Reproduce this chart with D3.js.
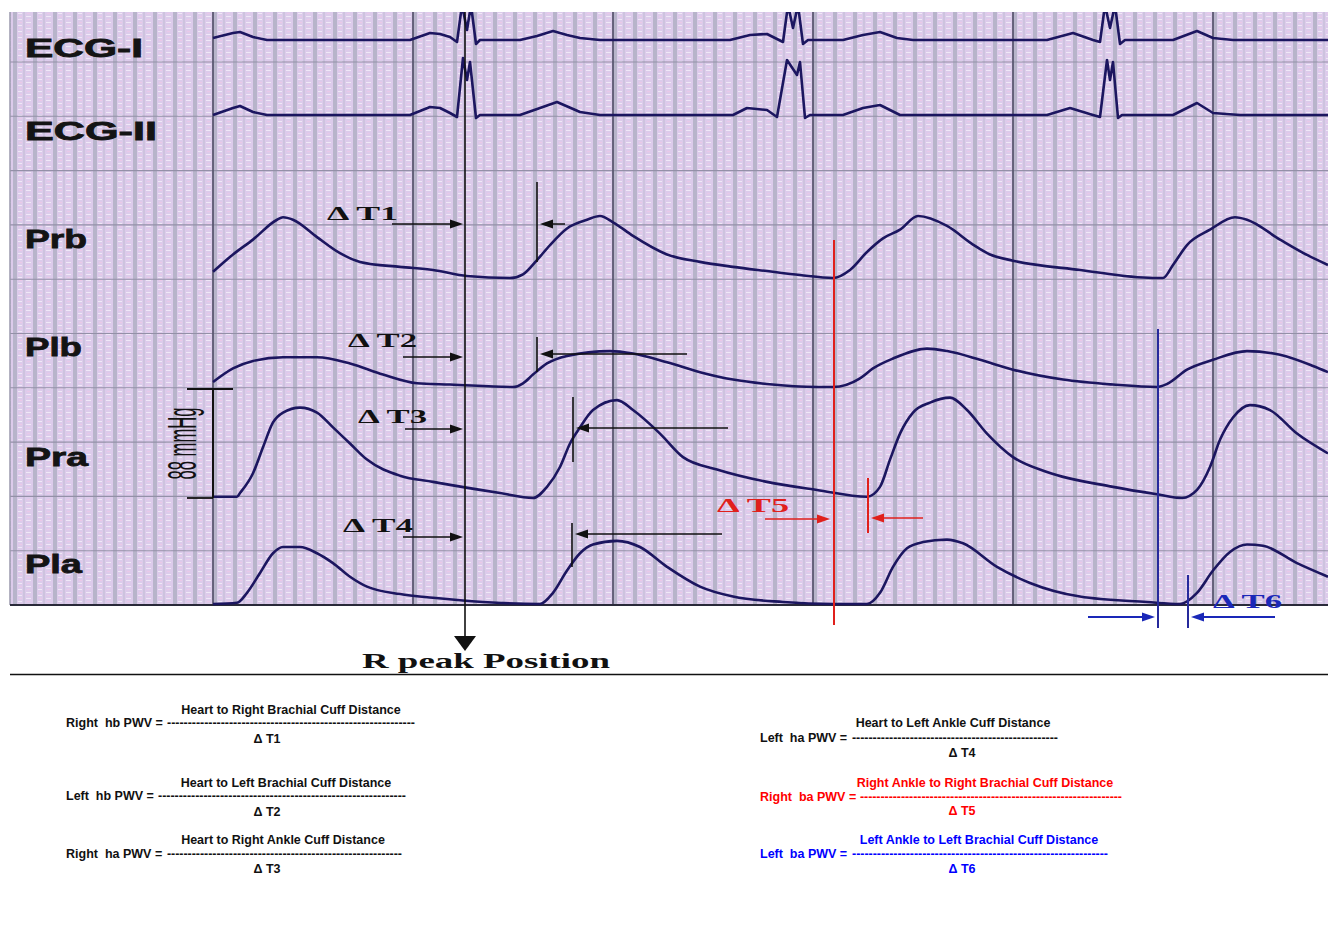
<!DOCTYPE html>
<html>
<head>
<meta charset="UTF-8">
<title>Pulse wave velocity - cuff pressure recording</title>
<script src="https://cdn.jsdelivr.net/npm/d3@7"></script>
<style>
  body { margin: 0; background: #ffffff; }
</style>
</head>
<body>
<svg id="chart" width="1328" height="947"></svg>
<script>
// time in ms from the start of the strip; ECG in mV, cuff pressures in mmHg above the foot
var ecg1 = [[0,0.04],[20,0.14],[27,0.16],[40,0.06],[54,0],[197,0],[217,0.14],[227,0.12],[237,0.06],[244,-0.04],
  [249,0.7],[254,0.2],[258,0.7],[263,-0.08],[267,0],[307,0],[324,0.08],[340,0.18],[354,0.1],[367,0.04],[387,0],
  [517,0],[537,0.1],[554,0.12],[570,-0.04],[575,0.7],[580,0.24],[585,0.7],[590,-0.08],[595,0],[630,0],[650,0.1],
  [667,0.16],[684,0.04],[700,0],[834,0],[860,0.14],[880,0],[887,-0.04],[892,0.7],[897,0.24],[902,0.7],[907,-0.08],
  [912,0],[960,0],[984,0.18],[1000,0.04],[1020,0],[1115,0]];

var ecg2 = [[0,0],[20,0.14],[27,0.18],[40,0.06],[54,0],[197,0],[217,0.16],[227,0.14],[237,0.04],[244,-0.04],
  [250,1.14],[254,0.7],[257,1.06],[263,-0.06],[267,0],[307,0],[327,0.14],[344,0.26],[367,0.06],[387,0],[520,0],
  [534,0.14],[554,0.1],[564,-0.04],[574,1.1],[584,0.8],[587,1.06],[592,-0.06],[597,0],[630,0],[650,0.14],[667,0.2],
  [687,0],[834,0],[857,0.14],[880,0],[887,-0.04],[894,1.1],[897,0.7],[900,1.06],[905,-0.06],[909,0],[960,0],
  [984,0.24],[1000,0.04],[1027,0],[1115,0]];

var prb = [[0,5],[20,19],[40,31],[64,47],[70,49],[80,47],[104,33],[127,20],[147,13],[187,9],[220,6.5],[254,1.6],
  [297,0],[310,3],[324,14.5],[337,26.6],[354,40],[374,47],[387,50],[400,45],[420,34],[454,19],[487,13],[520,9],
  [554,5.6],[587,2.4],[620,0],[637,6.5],[654,21],[670,32],[687,39],[705,50],[734,42],[760,27],[777,19],[800,14],
  [867,6.5],[940,0],[950,0],[960,10.5],[974,26.6],[997,39],[1022,49],[1034,47],[1067,31],[1094,18.6],[1115,10.5]];

var plb = [[0,4],[20,15],[40,21],[70,24],[104,24],[137,19],[170,10],[204,3],[237,2],[300,0],[310,3],[320,10],
  [334,19],[354,25],[397,29],[420,27],[454,20],[487,12],[520,6],[554,2.4],[604,0],[620,0],[647,7],[660,15],[680,23],
  [714,31],[734,29],[767,22],[800,14],[850,6],[900,2],[944,0],[954,2.4],[974,14],[1000,22],[1034,29],[1067,26],
  [1100,17],[1115,12]];

var pra = [[0,1],[24,1],[27,4],[40,20],[50,41],[60,61],[70,69],[87,73],[104,69],[120,57],[137,44],[154,31],
  [187,18],[220,13],[287,4],[320,0],[334,9],[347,25],[357,44],[367,57],[380,71],[404,79],[420,71],[447,52],[470,33],
  [504,23],[554,13],[604,6.5],[654,1],[667,9],[677,31],[687,52],[700,69],[717,77],[737,81],[754,71],[774,52],
  [800,33],[834,21],[900,9],[944,3],[969,0],[984,6.5],[997,25],[1007,47],[1020,65],[1037,75],[1057,71],[1084,52],
  [1115,36]];

var pla = [[0,0],[24,1],[34,9],[47,25],[60,41],[70,46],[87,46],[104,41],[120,33],[137,22],[154,14],[187,8],
  [220,5],[270,1.6],[327,0],[340,9],[354,27],[367,41],[380,48],[404,51],[427,46],[454,30],[487,14],[520,6],
  [570,1.6],[620,0],[654,0],[667,9],[680,30],[694,45],[710,50],[734,52],[750,49],[784,30],[817,17],[867,6],
  [934,1.6],[967,0],[984,9],[1000,27],[1017,42],[1034,48],[1050,47],[1084,33],[1115,22]];

var channelNames = ["ECG-I", "ECG-II", "Prb", "Plb", "Pra", "Pla"];

// timing marks (ms)
var rPeakMs = 252;
var footMs = [324, 324, 360, 359];        // dT1..dT4 feet on Prb, Plb, Pra, Pla
var t5Ms = [621, 655];                     // Prb foot / Pra foot
var t6Ms = [945, 975];                     // Plb foot / Pla foot
var scaleMmHg = 88;

// formula texts
var formulaNames = ["Right  hb PWV = ", "Left  hb PWV = ", "Right  ha PWV = ",
                    "Left  ha PWV = ", "Right  ba PWV = ", "Left  ba PWV = "];
var formulaNums = ["Heart to Right Brachial Cuff Distance", "Heart to Left Brachial Cuff Distance",
                   "Heart to Right Ankle Cuff Distance", "Heart to Left Ankle Cuff Distance",
                   "Right Ankle to Right Brachial Cuff Distance", "Left Ankle to Left Brachial Cuff Distance"];
var formulaDens = ["\u0394 T1", "\u0394 T2", "\u0394 T3", "\u0394 T4", "\u0394 T5", "\u0394 T6"];

var svg = d3.select("#chart");
var navy = "#1c1660";
var red = "#e0201c";
var blue = "#1a28b8";

var grid = { left: 10, top: 12, right: 1328, bottom: 605 };

var x = d3.scaleLinear().domain([-200, 1115]).range([13, 1328]);

// ---- paper background
var defs = svg.append("defs");
var pat = defs.append("pattern").attr("id", "paper")
  .attr("patternUnits", "userSpaceOnUse")
  .attr("x", 13).attr("y", 12).attr("width", 20).attr("height", 6);
pat.append("rect").attr("width", 20).attr("height", 6).attr("fill", "#dccbeb");
pat.append("rect").attr("x", 0).attr("width", 4).attr("height", 6).attr("fill", "#b7b4ca");
pat.append("rect").attr("x", 10).attr("width", 2).attr("height", 6).attr("fill", "#cdc3de");
pat.append("rect").attr("x", 5).attr("y", 1).attr("width", 4).attr("height", 1).attr("fill", "#ffffff").attr("opacity", 0.55);
pat.append("rect").attr("x", 13).attr("y", 4).attr("width", 5).attr("height", 1).attr("fill", "#ffffff").attr("opacity", 0.55);
pat.append("rect").attr("x", 6).attr("y", 4).attr("width", 3).attr("height", 1).attr("fill", "#f2c6e6").attr("opacity", 0.7);
pat.append("rect").attr("x", 14).attr("y", 1).attr("width", 3).attr("height", 1).attr("fill", "#f2c6e6").attr("opacity", 0.6);

defs.append("clipPath").attr("id", "gridClip").append("rect")
  .attr("x", grid.left).attr("y", grid.top)
  .attr("width", grid.right - grid.left).attr("height", grid.bottom - grid.top + 2);

svg.append("rect")
  .attr("x", grid.left).attr("y", grid.top)
  .attr("width", grid.right - grid.left).attr("height", grid.bottom - grid.top)
  .attr("fill", "url(#paper)");

// horizontal major lines
var rowH = 54.3;
var rows = d3.range(1, 11).map(function (i) { return grid.bottom - i * rowH; });
svg.append("g").selectAll("line").data(rows).enter().append("line")
  .attr("x1", grid.left).attr("x2", grid.right)
  .attr("y1", function (d) { return d; }).attr("y2", function (d) { return d; })
  .attr("stroke", "#9490a8").attr("stroke-width", 1.1);

// vertical major lines every 200 ms
svg.append("g").selectAll("line").data(d3.range(0, 1115, 200)).enter().append("line")
  .attr("x1", function (d) { return x(d); }).attr("x2", function (d) { return x(d); })
  .attr("y1", grid.top).attr("y2", grid.bottom)
  .attr("stroke", "#5b5872").attr("stroke-width", 1.8);

svg.append("line").attr("x1", grid.left).attr("x2", grid.left)
  .attr("y1", grid.top).attr("y2", grid.bottom).attr("stroke", "#9a98ac").attr("stroke-width", 1.5);
svg.append("line").attr("x1", grid.left).attr("x2", grid.right)
  .attr("y1", grid.bottom).attr("y2", grid.bottom).attr("stroke", "#2a2a3a").attr("stroke-width", 2);

// ---- channel traces
var baselines = [40, 115, 278, 387, 498, 604];
var labelBase = [57, 140, 248, 356, 466, 573];
var labelLen = [118, 132, 62, 57, 63, 57];
var series = [ecg1, ecg2, prb, plb, pra, pla];

var yScales = series.map(function (s, i) {
  if (i < 2) return d3.scaleLinear().domain([0, 1]).range([baselines[i], baselines[i] - 50]);
  return d3.scaleLinear().domain([0, scaleMmHg]).range([baselines[i], baselines[i] - 109]);
});

var traces = svg.append("g").attr("clip-path", "url(#gridClip)");
series.forEach(function (s, i) {
  var line = d3.line()
    .x(function (d) { return x(d[0]); })
    .y(function (d) { return yScales[i](d[1]); })
    .curve(i < 2 ? d3.curveLinear : d3.curveMonotoneX);
  traces.append("path").datum(s)
    .attr("d", line)
    .attr("fill", "none")
    .attr("stroke", navy)
    .attr("stroke-width", i < 2 ? 2.6 : 2.6)
    .attr("stroke-linejoin", "round");
});

svg.append("g").selectAll("text").data(channelNames).enter().append("text")
  .text(function (d) { return d; })
  .attr("x", 25)
  .attr("y", function (d, i) { return labelBase[i]; })
  .attr("textLength", function (d, i) { return labelLen[i]; })
  .attr("lengthAdjust", "spacingAndGlyphs")
  .style("font-family", "'Liberation Sans', Arial, sans-serif")
  .style("font-weight", "bold")
  .style("font-size", "26px")
  .attr("fill", "#141414")
  .attr("stroke", "#141414").attr("stroke-width", 0.8);

// ---- 88 mmHg calibration bar
var cal = svg.append("g");
var yPra = yScales[4];
cal.append("line").attr("x1", x(0)).attr("x2", x(0))
  .attr("y1", yPra(scaleMmHg)).attr("y2", yPra(0)).attr("stroke", "#111").attr("stroke-width", 2);
cal.append("line").attr("x1", 187).attr("x2", 233)
  .attr("y1", yPra(scaleMmHg)).attr("y2", yPra(scaleMmHg)).attr("stroke", "#111").attr("stroke-width", 1.8);
cal.append("line").attr("x1", 187).attr("x2", x(0))
  .attr("y1", yPra(0)).attr("y2", yPra(0)).attr("stroke", "#111").attr("stroke-width", 1.8);
cal.append("text").text(scaleMmHg + " mmHg")
  .attr("transform", "translate(196," + yPra(scaleMmHg / 2) + ") rotate(-90)")
  .attr("text-anchor", "middle")
  .attr("textLength", 72).attr("lengthAdjust", "spacingAndGlyphs")
  .style("font-family", "'Liberation Sans', Arial, sans-serif")
  .style("font-size", "40px")
  .attr("fill", "#111");

// ---- arrows
var hArrow = function (g, x1, x2, y, color, w) {
  var dir = x2 > x1 ? 1 : -1;
  var head = 13;
  g.append("line").attr("x1", x1).attr("x2", x2 - dir * head + dir)
    .attr("y1", y).attr("y2", y).attr("stroke", color).attr("stroke-width", w || 1.5);
  g.append("path")
    .attr("d", "M" + x2 + "," + y + " L" + (x2 - dir * head) + "," + (y - 4.5) +
               " L" + (x2 - dir * head) + "," + (y + 4.5) + " Z")
    .attr("fill", color);
};
var vLine = function (g, xv, y1, y2, color, w) {
  g.append("line").attr("x1", xv).attr("x2", xv).attr("y1", y1).attr("y2", y2)
    .attr("stroke", color).attr("stroke-width", w);
};
var serifLabel = function (g, txt, xv, yv, len, color) {
  g.append("text").text(txt).attr("x", xv).attr("y", yv)
    .attr("textLength", len).attr("lengthAdjust", "spacingAndGlyphs")
    .style("font-family", "'Liberation Serif', 'Times New Roman', serif")
    .style("font-weight", "bold").style("font-size", "18px")
    .attr("fill", color);
};

var ann = svg.append("g");
var xr = x(rPeakMs);

// R peak line
vLine(ann, xr, grid.top, 640, "#111", 1.6);
ann.append("path").attr("d", "M" + xr + ",651 L" + (xr - 11) + ",636 L" + (xr + 11) + ",636 Z").attr("fill", "#111");
ann.append("text").text("R peak Position").attr("x", 362).attr("y", 668)
  .attr("textLength", 248).attr("lengthAdjust", "spacingAndGlyphs")
  .style("font-family", "'Liberation Serif', 'Times New Roman', serif")
  .style("font-weight", "bold").style("font-size", "21px").attr("fill", "#111");

// dT1..dT4 layout: label x, label baseline, label width, arrow y, marker top/bottom, left-arrow y, tail x
var dLayout = [
  { lx: 327, ly: 220, lw: 71, ay: 224, ax: 392, mt: 182, mb: 262, by: 224, bx: 565 },
  { lx: 348, ly: 347, lw: 69, ay: 357, ax: 403, mt: 337, mb: 372, by: 354, bx: 687 },
  { lx: 358, ly: 423, lw: 69, ay: 429, ax: 405, mt: 397, mb: 462, by: 428, bx: 728 },
  { lx: 343, ly: 532, lw: 70, ay: 537, ax: 403, mt: 523, mb: 567, by: 534, bx: 722 }
];
dLayout.forEach(function (L, i) {
  serifLabel(ann, formulaDens[i], L.lx, L.ly, L.lw, "#111");
  hArrow(ann, L.ax, xr - 2, L.ay, "#111");
  var xf = x(footMs[i]);
  vLine(ann, xf, L.mt, L.mb, "#111", 1.6);
  hArrow(ann, L.bx, xf + 3, L.by, "#111");
});

// dT5 (red)
serifLabel(ann, formulaDens[4], 717, 512, 72, red);
vLine(ann, x(t5Ms[0]), 240, 625, red, 2);
vLine(ann, x(t5Ms[1]), 478, 533, red, 2);
hArrow(ann, 765, x(t5Ms[0]) - 4, 519, red, 1.6);
hArrow(ann, 923, x(t5Ms[1]) + 3, 518, red, 1.6);

// dT6 (blue)
serifLabel(ann, formulaDens[5], 1213, 608, 69, blue);
vLine(ann, x(t6Ms[0]), 329, 628, "#262a9c", 2);
vLine(ann, x(t6Ms[1]), 575, 628, "#262a9c", 2);
hArrow(ann, 1088, x(t6Ms[0]) - 3, 617, blue, 1.8);
hArrow(ann, 1275, x(t6Ms[1]) + 3, 617, blue, 1.8);

// separator
svg.append("line").attr("x1", 10).attr("x2", 1328).attr("y1", 674.5).attr("y2", 674.5)
  .attr("stroke", "#111").attr("stroke-width", 1.3);

// ---- formulas
var fLayout = [
  { nx: 291, ny: 714, ex: 66, ey: 727, d1: 167, d2: 415, dx: 267, dy: 743, c: "#111" },
  { nx: 286, ny: 787, ex: 66, ey: 800, d1: 158, d2: 406, dx: 267, dy: 816, c: "#111" },
  { nx: 283, ny: 844, ex: 66, ey: 858, d1: 167, d2: 402, dx: 267, dy: 873, c: "#111" },
  { nx: 953, ny: 727, ex: 760, ey: 742, d1: 852, d2: 1058, dx: 962, dy: 757, c: "#111" },
  { nx: 985, ny: 787, ex: 760, ey: 801, d1: 860, d2: 1122, dx: 962, dy: 815, c: "#ff0000" },
  { nx: 979, ny: 844, ex: 760, ey: 858, d1: 852, d2: 1108, dx: 962, dy: 873, c: "#0000ff" }
];
var fg = svg.append("g")
  .style("font-family", "'Liberation Sans', Arial, Helvetica, sans-serif")
  .style("font-weight", "bold").style("font-size", "12.5px");
fLayout.forEach(function (L, i) {
  fg.append("text").text(formulaNums[i]).attr("x", L.nx).attr("y", L.ny)
    .attr("text-anchor", "middle").attr("fill", L.c);
  fg.append("text").text(formulaNames[i].replace(/ /g, "\u00a0")).attr("x", L.ex).attr("y", L.ey).attr("fill", L.c);
  var n = Math.round((L.d2 - L.d1) / 4.1);
  fg.append("text").text(new Array(n + 1).join("-")).attr("x", L.d1).attr("y", L.ey)
    .attr("textLength", L.d2 - L.d1).attr("lengthAdjust", "spacing").attr("fill", L.c);
  fg.append("text").text(formulaDens[i]).attr("x", L.dx).attr("y", L.dy)
    .attr("text-anchor", "middle").attr("fill", L.c);
});
</script>
</body>
</html>
